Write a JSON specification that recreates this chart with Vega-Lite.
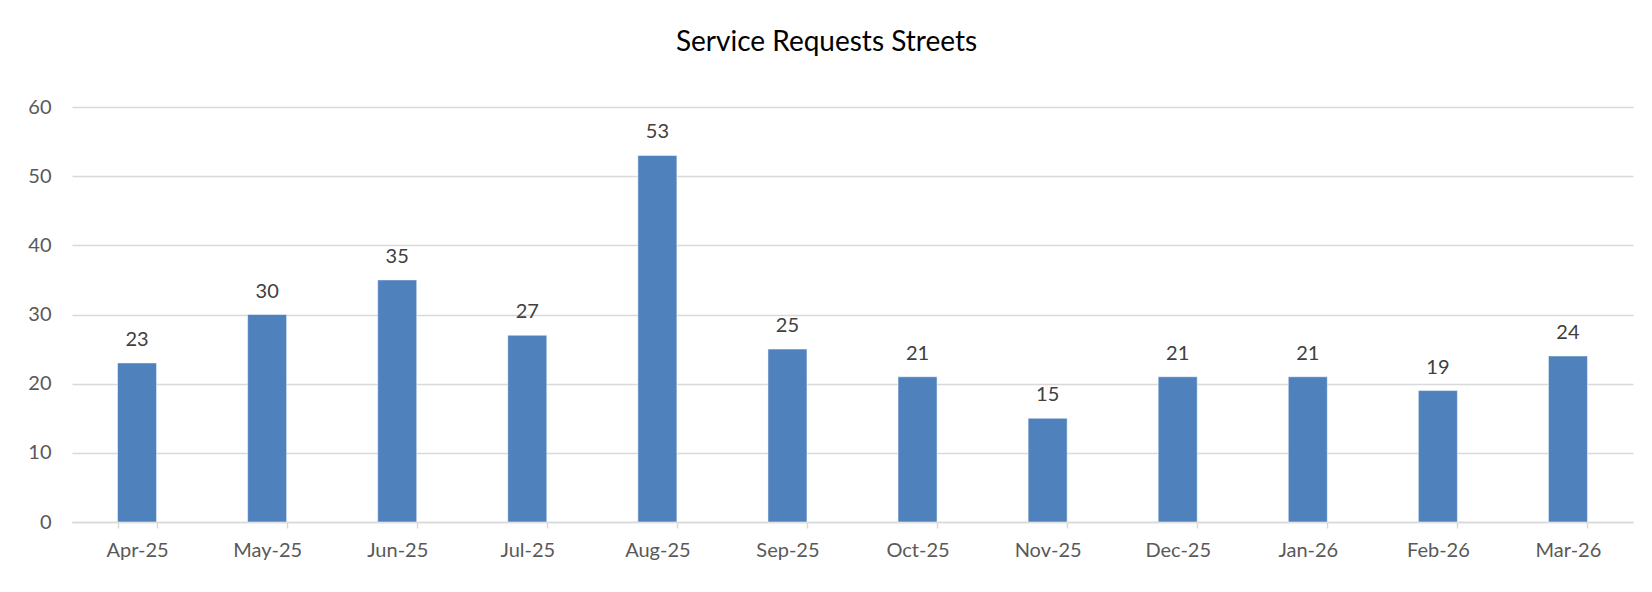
{
  "$schema": "https://vega.github.io/schema/vega-lite/v6.json",
  "autosize": "none",
  "width": 1561,
  "height": 415,
  "padding": {"left": 72, "top": 107, "right": 19, "bottom": 70},
  "background": "white",
  "config": {"view": {"stroke": null}, "font": "Lato"},
  "title": {
    "text": "Service Requests Streets",
    "font": "Lato",
    "fontSize": 28,
    "fontWeight": "normal",
    "color": "#000000",
    "anchor": "middle",
    "dx": -26,
    "offset": 40
  },
  "data": {
    "values": [
      {"month": "Apr-25", "requests": 23},
      {"month": "May-25", "requests": 30},
      {"month": "Jun-25", "requests": 35},
      {"month": "Jul-25", "requests": 27},
      {"month": "Aug-25", "requests": 53},
      {"month": "Sep-25", "requests": 25},
      {"month": "Oct-25", "requests": 21},
      {"month": "Nov-25", "requests": 15},
      {"month": "Dec-25", "requests": 21},
      {"month": "Jan-26", "requests": 21},
      {"month": "Feb-26", "requests": 19},
      {"month": "Mar-26", "requests": 24}
    ]
  },
  "encoding": {
    "x": {
      "field": "month",
      "type": "nominal",
      "sort": null,
      "scale": {"paddingInner": 0.7, "paddingOuter": 0.35},
      "axis": {
        "title": null,
        "labelAngle": 0,
        "labelFontSize": 20,
        "labelColor": "#595959",
        "labelPadding": 12,
        "domainColor": "#d9d9d9",
        "domainWidth": 1.5,
        "tickColor": "#d9d9d9",
        "tickWidth": 1.5,
        "tickSize": 6,
        "tickBand": "extent",
        "grid": false
      }
    },
    "y": {
      "field": "requests",
      "type": "quantitative",
      "scale": {"domain": [0, 60], "nice": false},
      "axis": {
        "title": null,
        "values": [0, 10, 20, 30, 40, 50, 60],
        "labelFontSize": 20,
        "labelColor": "#595959",
        "labelPadding": 21,
        "ticks": false,
        "domain": false,
        "gridColor": "#d9d9d9",
        "gridWidth": 1.5
      }
    }
  },
  "layer": [
    {"mark": {"type": "bar", "color": "#4f81bd", "stroke": "#ffffff", "strokeWidth": 0.5}},
    {
      "mark": {"type": "text", "baseline": "alphabetic", "dy": -17, "fontSize": 20, "color": "#404040"},
      "encoding": {"text": {"field": "requests", "type": "quantitative"}}
    }
  ]
}
